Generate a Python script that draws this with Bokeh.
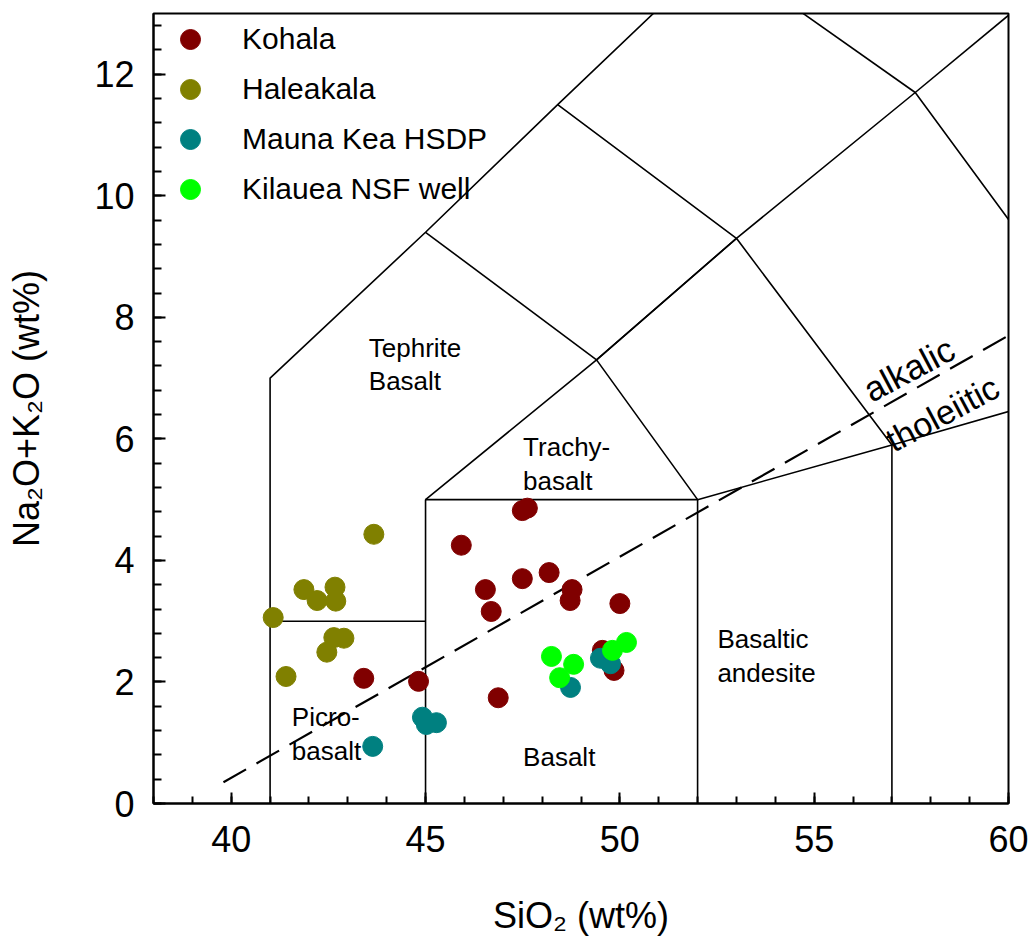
from bokeh.plotting import figure
from bokeh.models import Range1d, FixedTicker, Legend, LegendItem
from bokeh.core.properties import value
from bokeh.embed import file_html
from bokeh.resources import INLINE

# --- sample data: SiO2 vs total alkalis (wt%) ---
kohala_sio2 = [43.41, 44.82, 47.49, 47.62, 45.92, 46.54, 46.69, 47.49, 48.18,
               48.77, 48.72, 50.00, 46.87, 49.85, 49.55]
kohala_alk = [2.06, 2.01, 4.82, 4.86, 4.25, 3.52, 3.16, 3.70, 3.80,
              3.52, 3.34, 3.29, 1.74, 2.19, 2.52]

haleakala_sio2 = [41.08, 41.41, 41.87, 42.21, 42.67, 42.69, 43.67, 42.64, 42.90, 42.46]
haleakala_alk = [3.06, 2.09, 3.52, 3.34, 3.56, 3.33, 4.43, 2.73, 2.72, 2.49]

maunakea_sio2 = [43.64, 44.92, 45.02, 45.28, 48.73, 49.50, 49.76]
maunakea_alk = [0.94, 1.42, 1.30, 1.33, 1.91, 2.39, 2.30]

kilauea_sio2 = [48.24, 48.81, 48.45, 49.81, 50.17]
kilauea_alk = [2.42, 2.29, 2.07, 2.52, 2.65]

series_names = ["Kohala", "Haleakala", "Mauna Kea HSDP", "Kilauea NSF well"]
series_colors = ["#800000", "#808000", "#008080", "#00ff00"]

# --- TAS field boundaries (Le Bas et al., 1986) ---
tas_xs = [
    [41, 41, 45, 48.4, 52.5],
    [41, 45],
    [45, 45, 52, 52],
    [45, 49.4, 52],
    [49.4, 53, 57, 57],
    [52, 57, 63],
    [45, 49.4],
    [48.4, 53, 57.6, 63],
    [53, 49.4],
    [57.6, 52.5],
    [57.6, 61],
]
tas_ys = [
    [0, 7, 9.4, 11.5, 14],
    [3, 3],
    [0, 5, 5, 0],
    [5, 7.3, 5],
    [7.3, 9.3, 5.9, 0],
    [5, 5.9, 7],
    [9.4, 7.3],
    [11.5, 9.3, 11.7, 7],
    [9.3, 7.3],
    [11.7, 14],
    [11.7, 13.5],
]

# alkalic / tholeiitic divide (Macdonald & Katsura, 1964)
divide_sio2 = [39.8, 60.0]
divide_alk = [0.35, 7.70]

# field names: (x, y of baseline, text)
field_labels = [
    (43.54, 7.49, "Tephrite"),
    (43.54, 6.95, "Basalt"),
    (47.51, 5.86, "Trachy-"),
    (47.51, 5.30, "basalt"),
    (41.56, 1.42, "Picro-"),
    (41.56, 0.86, "basalt"),
    (47.51, 0.76, "Basalt"),
    (52.51, 2.70, "Basaltic"),
    (52.51, 2.14, "andesite"),
]

x_major = [40, 45, 50, 55, 60]
x_minor = list(range(38, 61))
y_major = [0, 2, 4, 6, 8, 10, 12]
y_minor = [round(0.4 * i, 1) for i in range(0, 33)]

FONT = "Liberation Sans"

p = figure(width=1031, height=942, output_backend="svg", toolbar_location=None,
           x_range=Range1d(38, 60), y_range=Range1d(0, 13),
           min_border_left=153, min_border_right=23,
           min_border_top=13, min_border_bottom=139)

p.background_fill_color = "white"
p.border_fill_color = "white"
p.grid.visible = False
p.outline_line_color = "black"
p.outline_line_width = 2

# boundaries
p.multi_line(tas_xs, tas_ys, line_color="black", line_width=1.6)
p.line(divide_sio2, divide_alk, line_color="black", line_width=2.2, line_dash="26 12")

# field names
for fx, fy, ft in field_labels:
    p.text([fx], [fy], text=[ft], text_font=value(FONT), text_font_size="26px",
           text_baseline="alphabetic", text_align="left", text_color="black")

p.text([56.33], [6.77], text=["alkalic"], angle=0.49, text_font=value(FONT),
       text_font_size="35px", text_baseline="alphabetic", text_align="left")
p.text([56.90], [5.94], text=["tholeiitic"], angle=0.49, text_font=value(FONT),
       text_font_size="34px", text_baseline="alphabetic", text_align="left")

# data series
renderers = []
for xs, ys, c in zip([kohala_sio2, haleakala_sio2, maunakea_sio2, kilauea_sio2],
                     [kohala_alk, haleakala_alk, maunakea_alk, kilauea_alk],
                     series_colors):
    r = p.scatter(xs, ys, size=20, fill_color=c, line_color=c, line_width=1)
    renderers.append(r)

legend = Legend(items=[LegendItem(label=n, renderers=[r]) for n, r in zip(series_names, renderers)],
                location="top_left", margin=0, padding=1,
                glyph_width=72, glyph_height=50, spacing=-10, label_standoff=16,
                label_text_font=FONT, label_text_font_size="30px",
                label_text_color="black",
                border_line_alpha=0, background_fill_alpha=0)
p.add_layout(legend)

# axes
p.xaxis.ticker = FixedTicker(ticks=x_major, minor_ticks=x_minor)
p.yaxis.ticker = FixedTicker(ticks=y_major, minor_ticks=y_minor)
p.xaxis.axis_label = "SiO₂ (wt%)"
p.yaxis.axis_label = "Na₂O+K₂O (wt%)"
for ax in (p.xaxis, p.yaxis):
    ax.axis_line_width = 2
    ax.axis_line_color = "black"
    ax.major_tick_line_width = 2
    ax.minor_tick_line_width = 2
    ax.major_tick_out = 0
    ax.minor_tick_out = 0
    ax.major_label_text_font = FONT
    ax.major_label_text_font_size = "36px"
    ax.major_label_text_color = "black"
    ax.axis_label_text_font = FONT
    ax.axis_label_text_font_size = "36px"
    ax.axis_label_text_font_style = "normal"
    ax.axis_label_text_color = "black"
p.xaxis.major_tick_in = 11
p.xaxis.minor_tick_in = 7
p.yaxis.major_tick_in = 12
p.yaxis.minor_tick_in = 8
p.xaxis.major_label_standoff = 22
p.yaxis.major_label_standoff = 19
p.xaxis.axis_label_standoff = 40
p.yaxis.axis_label_standoff = 44

open("out.html", "w").write(file_html(p, INLINE))
